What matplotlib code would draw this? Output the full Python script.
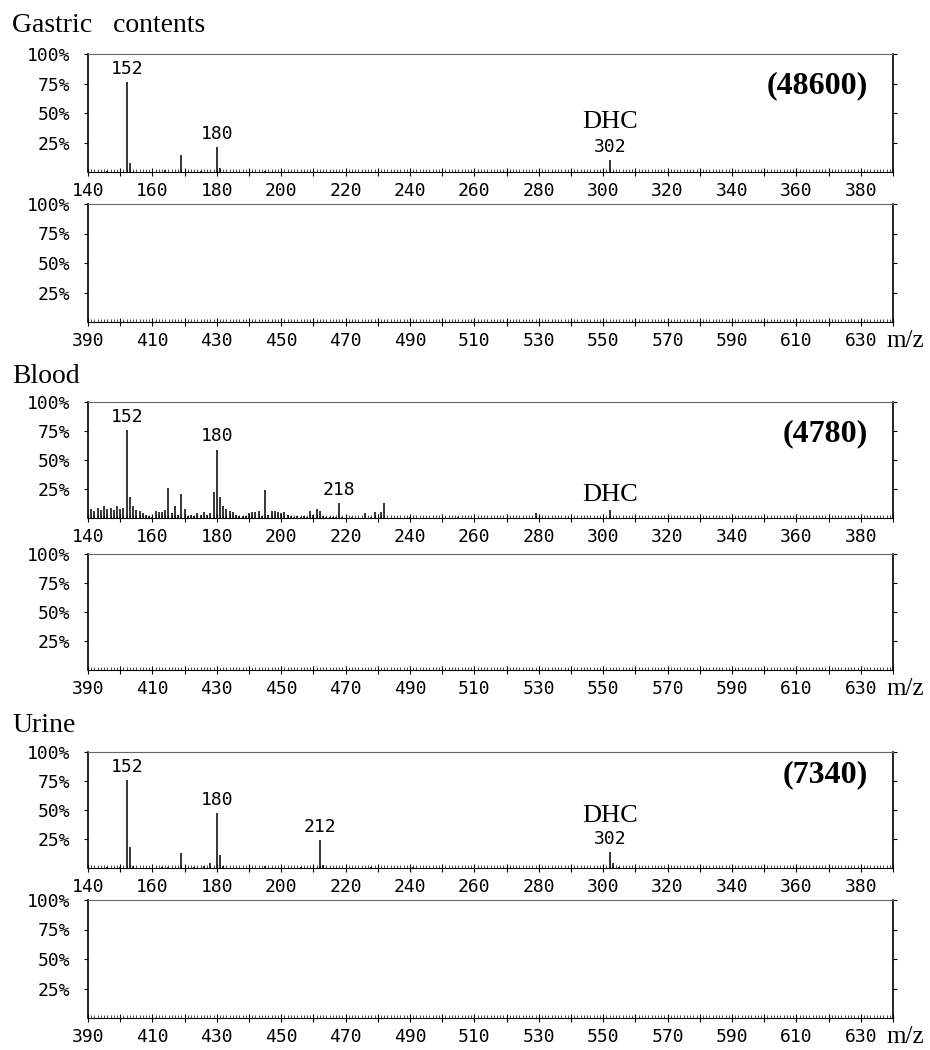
import matplotlib
matplotlib.use('Agg')
import matplotlib.pyplot as plt
from matplotlib.ticker import MultipleLocator, FuncFormatter

# ====================== 数据 ======================
gastric_mz = [146, 152, 153, 164, 169, 175, 180, 181, 195, 302]
gastric_int = [1, 76, 8, 1.5, 14, 1, 21, 3, 1, 10]

blood_mz = [141, 142, 143, 144, 145, 146, 147, 148, 149, 150, 151, 152, 153, 154, 155,
            156, 157, 158, 159, 160, 161, 162, 163, 164, 165, 166, 167, 168, 169, 170,
            171, 172, 173, 174, 175, 176, 177, 178, 179, 180, 181, 182, 183, 184, 185,
            186, 187, 188, 189, 190, 191, 192, 193, 194, 195, 196, 197, 198, 199, 200,
            201, 202, 203, 204, 205, 206, 207, 208, 209, 210, 211, 212, 213, 214, 215,
            216, 217, 218, 219, 222, 226, 228, 229, 231, 232, 240, 255, 279, 302]
blood_int = [8, 6, 9, 7, 10, 8, 9, 7, 10, 8, 9, 76, 18, 10, 7,
             6, 4, 3, 2, 1, 6, 5, 5, 7, 26, 4, 10, 3, 21, 8,
             2, 3, 2, 4, 3, 5, 3, 4, 22, 59, 18, 10, 8, 6, 5,
             3, 2, 2, 2, 4, 5, 5, 6, 2, 24, 3, 6, 6, 5, 4,
             5, 3, 2, 1, 2, 1, 2, 1, 6, 3, 8, 6, 2, 1, 1,
             1, 1, 13, 1, 1, 4, 1, 5, 5, 13, 0.5, 0.5, 4, 7]

urine_mz = [146, 150, 152, 153, 154, 163, 165, 169, 173, 176, 178, 180, 181, 182,
            195, 206, 212, 213, 228, 241, 302, 303, 305]
urine_int = [1, 1, 76, 18, 2, 1, 1, 13, 1, 2, 4, 47, 11, 2,
             2, 1, 24, 3, 1, 0.5, 14, 4, 1]

sample_names = ['Gastric   contents', 'Blood', 'Urine']
tic_labels = ['(48600)', '(4780)', '(7340)']
peak_labels = [[152, 180, 302], [152, 180, 218], [152, 180, 212, 302]]
dhc_mz = 302
upper_range = (140, 390)
lower_range = (390, 640)
y_ticks = [25, 50, 75, 100]

# ====================== 版面 (像素) ======================
W, H = 930, 1050
AX_LEFT, AX_RIGHT = 88, 893
panel_px = [((54, 172), (204, 322)),
            ((402, 518), (554, 670)),
            ((752, 868), (900, 1018))]
title_baseline = [32, 383, 732]
tic_y = [0.67, 0.66, 0.74]
dhc_y = [37, 15, 40]

MONO = 'DejaVu Sans Mono'
SERIF = 'Liberation Serif'


def make_axes(fig, top, bottom):
    rect = [AX_LEFT / W, 1 - bottom / H, (AX_RIGHT - AX_LEFT) / W, (bottom - top) / H]
    return fig.add_axes(rect)


def style_axes(ax, xr):
    """坐标轴样式：左右实线，顶部虚线，底部刻度尺"""
    ax.set_xlim(*xr)
    ax.set_ylim(0, 100)
    ax.spines['left'].set_linewidth(1.2)
    ax.spines['right'].set_linewidth(1.2)
    ax.spines['bottom'].set_linewidth(0.8)
    ax.spines['top'].set_linewidth(0.8)
    ax.spines['top'].set_linestyle((0, (2, 1)))
    ax.spines['top'].set_color('0.4')

    ax.set_yticks(y_ticks)
    ax.set_yticklabels([f'{v}%' for v in y_ticks], fontfamily=MONO, fontsize=13)
    ax.tick_params(axis='y', left=True, right=True, direction='out',
                   length=3, width=0.8, pad=10)

    ax.xaxis.set_major_locator(MultipleLocator(10))
    ax.xaxis.set_minor_locator(MultipleLocator(1))
    x0 = xr[0]
    ax.xaxis.set_major_formatter(FuncFormatter(
        lambda v, p: f'{int(round(v))}' if int(round(v - x0)) % 20 == 0 and v < xr[1] else ''))
    ax.tick_params(axis='x', which='major', direction='inout', length=6, width=0.8, pad=4)
    ax.tick_params(axis='x', which='minor', direction='in', length=2.2, width=0.5)
    for lab in ax.get_xticklabels():
        lab.set_fontfamily(MONO)
        lab.set_fontsize(13)


fig = plt.figure(figsize=(W / 100, H / 100), dpi=100)

spectra = [(gastric_mz, gastric_int), (blood_mz, blood_int), (urine_mz, urine_int)]

for i, (mz, inten) in enumerate(spectra):
    (ut, ub), (lt, lb) = panel_px[i]
    ax_up = make_axes(fig, ut, ub)
    ax_lo = make_axes(fig, lt, lb)
    style_axes(ax_up, upper_range)
    style_axes(ax_lo, lower_range)

    # 质谱峰
    ax_up.vlines(mz, 0, inten, color='black', linewidth=1.1)

    # 峰标注
    for m in peak_labels[i]:
        h = inten[mz.index(m)]
        ax_up.annotate(str(m), xy=(m, h), xytext=(0, 3), textcoords='offset points',
                       ha='center', va='bottom', fontfamily=MONO, fontsize=13)

    ax_up.text(dhc_mz, dhc_y[i], 'DHC', ha='center', va='baseline',
               fontfamily=SERIF, fontsize=19)
    ax_up.text(0.969, tic_y[i], tic_labels[i], transform=ax_up.transAxes,
               ha='right', va='baseline', fontfamily=SERIF, fontsize=23, fontweight='bold')

    ax_lo.annotate('m/z', xy=(1, 0), xycoords='axes fraction', xytext=(-4.5, -18),
                   textcoords='offset points', ha='left', va='baseline',
                   fontfamily=SERIF, fontsize=18)

    fig.text(12 / W, 1 - title_baseline[i] / H, sample_names[i], ha='left', va='baseline',
             fontfamily=SERIF, fontsize=20)

fig.savefig('out.png', dpi=100)
